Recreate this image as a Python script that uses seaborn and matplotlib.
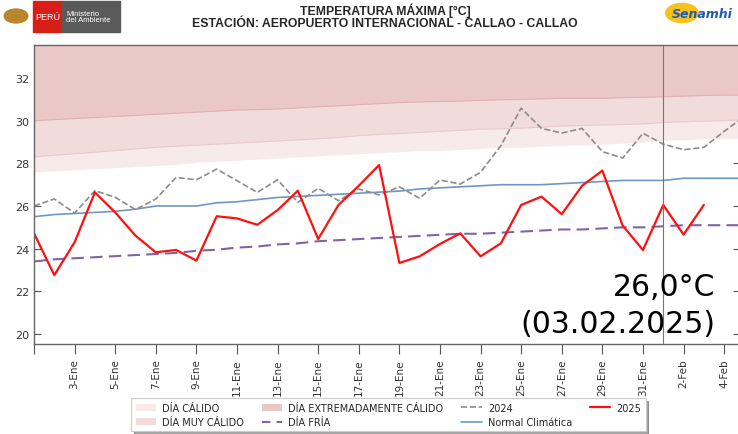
# -------------------- IMPORTS --------------------
import numpy as np
import pandas as pd
import matplotlib
matplotlib.use("Agg")
import matplotlib.pyplot as plt
from matplotlib.patches import Patch, Rectangle, Circle
from matplotlib.lines import Line2D
import seaborn as sns

# -------------------- DATA --------------------
# one value per day, 1-Ene ... 5-Feb
dias = list(range(36))
anio_2025 = [24.72, 22.76, 24.3, 26.64, 25.7, 24.61, 23.83, 23.94, 23.44, 25.52,
             25.42, 25.12, 25.81, 26.72, 24.45, 26.05, 26.95, 27.92, 23.33, 23.64,
             24.22, 24.72, 23.64, 24.25, 26.05, 26.44, 25.62, 26.95, 27.66, 25.08,
             23.94, 26.05, 24.66, 26.05]
anio_2024 = [26.0, 26.33, 25.67, 26.72, 26.41, 25.83, 26.33, 27.34, 27.23, 27.73,
             27.19, 26.64, 27.23, 26.17, 26.83, 26.25, 26.8, 26.52, 26.9, 26.36,
             27.22, 27.03, 27.58, 28.83, 30.59, 29.64, 29.42, 29.64, 28.55, 28.25,
             29.41, 28.9, 28.64, 28.75, 29.5, 30.2]
normal = [25.5, 25.6, 25.65, 25.7, 25.75, 25.85, 26.0, 26.0, 26.0, 26.15,
          26.2, 26.3, 26.4, 26.45, 26.5, 26.55, 26.6, 26.65, 26.7, 26.8,
          26.85, 26.9, 26.95, 27.0, 27.0, 27.0, 27.05, 27.1, 27.15, 27.2,
          27.2, 27.2, 27.3, 27.3, 27.3, 27.3]
dia_fria = [23.4, 23.5, 23.55, 23.6, 23.65, 23.7, 23.75, 23.8, 23.9, 23.95,
            24.05, 24.1, 24.2, 24.25, 24.35, 24.4, 24.45, 24.5, 24.55, 24.6,
            24.65, 24.7, 24.7, 24.75, 24.8, 24.85, 24.9, 24.9, 24.95, 25.0,
            25.0, 25.05, 25.1, 25.1, 25.1, 25.1]
umbral_calido = [27.6, 27.65, 27.7, 27.75, 27.8, 27.85, 27.9, 27.95, 28.05, 28.1,
                 28.15, 28.2, 28.25, 28.3, 28.35, 28.4, 28.45, 28.5, 28.55, 28.6,
                 28.6, 28.65, 28.7, 28.75, 28.75, 28.8, 28.85, 28.85, 28.9, 28.95,
                 29.0, 29.1, 29.1, 29.15, 29.15, 29.2]
umbral_muy_calido = [28.3, 28.38, 28.45, 28.52, 28.6, 28.68, 28.75, 28.8, 28.85, 28.9,
                     28.95, 29.0, 29.05, 29.1, 29.15, 29.22, 29.3, 29.35, 29.4, 29.45,
                     29.5, 29.55, 29.6, 29.62, 29.65, 29.7, 29.75, 29.78, 29.8, 29.82,
                     29.85, 29.92, 29.95, 29.98, 30.0, 30.05]
umbral_extremo = [30.0, 30.05, 30.1, 30.15, 30.2, 30.25, 30.3, 30.35, 30.4, 30.45,
                  30.5, 30.52, 30.55, 30.6, 30.65, 30.7, 30.75, 30.8, 30.85, 30.88,
                  30.9, 30.92, 30.95, 30.98, 31.0, 31.02, 31.05, 31.05, 31.05, 31.08,
                  31.1, 31.12, 31.15, 31.18, 31.2, 31.2]
tick_dias = list(range(0, 36, 2))
tick_labels = ['', '3-Ene', '5-Ene', '7-Ene', '9-Ene', '11-Ene', '13-Ene', '15-Ene',
               '17-Ene', '19-Ene', '21-Ene', '23-Ene', '25-Ene', '27-Ene', '29-Ene',
               '31-Ene', '2-Feb', '4-Feb']
dia_inicio_mes = 31          # 1-Feb
ultimo_valor = "26,0°C\n(03.02.2025)"

df = pd.DataFrame({'dia': dias, '2024': anio_2024, 'normal': normal,
                   'fria': dia_fria, 'calido': umbral_calido,
                   'muy_calido': umbral_muy_calido, 'extremo': umbral_extremo})
df25 = pd.DataFrame({'dia': dias[:len(anio_2025)], '2025': anio_2025})

# -------------------- STYLE --------------------
sns.set_style("ticks")
plt.rcParams['font.family'] = ['DejaVu Sans']

c_calido = '#f6eaea'
c_muy = '#f1dbdb'
c_extremo = '#ebc8c8'

fig = plt.figure(figsize=(7.38, 4.35), dpi=100)
ax = fig.add_axes([34 / 738, 1 - 345 / 435, 706 / 738, 299 / 435])

# -------------------- BANDS --------------------
top = 40
ax.fill_between(df['dia'], df['calido'], df['muy_calido'], color=c_calido, lw=0)
ax.fill_between(df['dia'], df['muy_calido'], df['extremo'], color=c_muy, lw=0)
ax.fill_between(df['dia'], df['extremo'], top, color=c_extremo, lw=0)
ax.plot(df['dia'], df['muy_calido'], color='#ebcaca', lw=0.8)
ax.plot(df['dia'], df['extremo'], color='#e2b0b0', lw=0.8)

# -------------------- LINES --------------------
sns.lineplot(data=df, x='dia', y='normal', ax=ax, color='#6f98c0', lw=1.2)
sns.lineplot(data=df, x='dia', y='fria', ax=ax, color='#8064a8', lw=1.5,
             linestyle=(0, (6, 3)))
sns.lineplot(data=df, x='dia', y='2024', ax=ax, color='#8c8c8c', lw=1.2,
             linestyle='--')
sns.lineplot(data=df25, x='dia', y='2025', ax=ax, color='#ff1010', lw=1.6)

ax.axvline(dia_inicio_mes, color='#777777', lw=0.8)

ax.text(33.55, 21.35, ultimo_valor, ha='right', va='center', fontsize=21.5,
        linespacing=1.35, multialignment='right', color='black')

# -------------------- AXES --------------------
ax.set_xlim(0, 34.78)
ax.set_ylim(19.53, 33.55)
ax.set_yticks(range(20, 33, 2))
ax.set_xticks(tick_dias)
ax.set_xticklabels(tick_labels, rotation=90)
ax.set_xlabel('')
ax.set_ylabel('')
ax.tick_params(axis='y', direction='in', left=True, right=True, length=5,
               width=0.8, color='#555555', labelsize=8, labelcolor='#333333')
ax.tick_params(axis='x', direction='out', length=7, width=0.8, color='#555555',
               labelsize=7.5, labelcolor='#333333')
for s in ['left', 'bottom', 'top']:
    ax.spines[s].set_color('#666666')
    ax.spines[s].set_linewidth(1.0)
ax.spines['right'].set_visible(False)

# -------------------- LEGEND --------------------
handles = [
    Patch(facecolor=c_calido, edgecolor='none', label='DÍA CÁLIDO'),
    Patch(facecolor=c_muy, edgecolor='none', label='DÍA MUY CÁLIDO'),
    Patch(facecolor=c_extremo, edgecolor='none', label='DÍA EXTREMADAMENTE CÁLIDO'),
    Line2D([], [], color='#8064a8', lw=1.5, linestyle=(0, (4, 3)), label='DÍA FRÍA'),
    Line2D([], [], color='#8c8c8c', lw=1.2, linestyle='--', label='2024'),
    Line2D([], [], color='#6f98c0', lw=1.2, label='Normal Climática'),
    Line2D([], [], color='#ff1010', lw=1.6, label='2025'),
]
leg = ax.legend(handles=handles, ncol=4, loc='upper center',
                bbox_to_anchor=(0.502, -0.165), fontsize=7, frameon=True,
                shadow=True, fancybox=False, handlelength=2.1,
                columnspacing=1.8, borderpad=0.45, labelspacing=0.45,
                handletextpad=0.65)
leg.get_frame().set_edgecolor('#cccccc')
leg.get_frame().set_linewidth(0.8)

# -------------------- HEADER --------------------
fig.text(0.522, 0.976, 'TEMPERATURA MÁXIMA [°C]', ha='center', va='center',
         fontsize=8.8, fontweight='bold', family=['Liberation Sans', 'DejaVu Sans'])
fig.text(0.522, 0.944, 'ESTACIÓN: AEROPUERTO INTERNACIONAL - CALLAO - CALLAO',
         ha='center', va='center', fontsize=8.8, fontweight='bold',
         family=['Liberation Sans', 'DejaVu Sans'])

# left logo: escudo + PERÚ + Ministerio del Ambiente
fig.patches.append(Rectangle((33 / 738, 1 - 33 / 435), 29 / 738, 31 / 435,
                             transform=fig.transFigure, color='#d91e18'))
fig.patches.append(Rectangle((62 / 738, 1 - 33 / 435), 58 / 738, 31 / 435,
                             transform=fig.transFigure, color='#5a5a5a'))
fig.patches.append(Circle((16 / 738, 1 - 17 / 435), 0.016,
                          transform=fig.transFigure, color='#b8862b'))
fig.text(47.5 / 738, 1 - 17.5 / 435, 'PERÚ', ha='center', va='center',
         color='white', fontsize=6.5, family=['Liberation Sans', 'DejaVu Sans'])
fig.text(66 / 738, 1 - 17.5 / 435, 'Ministerio\ndel Ambiente', ha='left',
         va='center', color='white', fontsize=5.5, linespacing=1.0,
         family=['Liberation Sans', 'DejaVu Sans'])

# right logo: Senamhi
fig.patches.append(Circle((682 / 738, 1 - 14 / 435), 0.022,
                          transform=fig.transFigure, color='#f6c21c'))
fig.text(672 / 738, 1 - 14 / 435, 'Senamhi', ha='left', va='center',
         color='#1f5bb5', fontsize=9, fontweight='bold', style='italic')

fig.savefig('out.png', dpi=100)
